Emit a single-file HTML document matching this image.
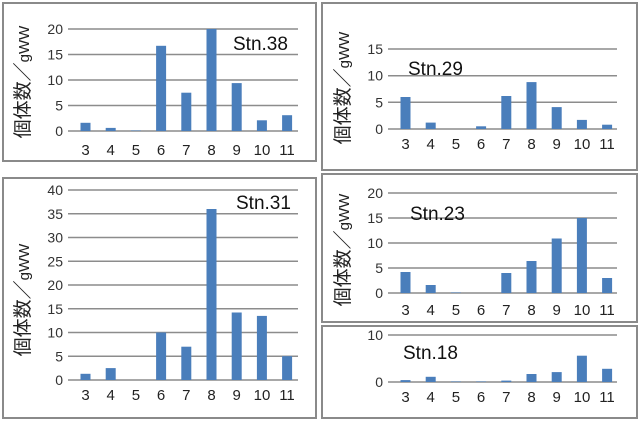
<!DOCTYPE html>
<html><head><meta charset="utf-8"><style>
body{margin:0;background:#fff}
svg{display:block;font-family:"Liberation Sans","Noto Sans CJK JP",sans-serif}
.g{stroke:#8c8c8c;stroke-width:1.5}
.b{fill:#4a7ebb}
.yl{font-size:14px;fill:#333;text-anchor:end}
.xl{font-size:15px;fill:#222;text-anchor:middle}
.t{font-size:19px;fill:#111}
.yt{font-size:19px;fill:#222;text-anchor:middle}
.yt tspan{font-size:15px}
</style></head><body>
<svg width="640" height="422" viewBox="0 0 640 422">
<rect x="0" y="0" width="640" height="422" fill="#fff"/>
<g fill="none" stroke="#8a8a8a" stroke-width="2">
<rect x="3" y="3" width="313" height="158"/>
<rect x="3" y="178" width="313" height="240"/>
<rect x="322" y="3" width="315" height="167"/>
<rect x="322" y="174" width="315" height="148"/>
<rect x="322" y="326" width="315" height="92"/>
</g>
<text class="yt" transform="translate(29,82) rotate(-90)">個体数／<tspan>gWW</tspan></text>
<text class="yt" transform="translate(29,300) rotate(-90)">個体数／<tspan>gWW</tspan></text>
<text class="yt" transform="translate(349,88) rotate(-90)">個体数／<tspan>gWW</tspan></text>
<text class="yt" transform="translate(349,250) rotate(-90)">個体数／<tspan>gWW</tspan></text>

<!-- Stn.38 -->
<g transform="translate(68,131)">
<line class="g" x1="0" x2="230" y1="-102" y2="-102"/><line class="g" x1="0" x2="230" y1="-76.5" y2="-76.5"/><line class="g" x1="0" x2="230" y1="-51" y2="-51"/><line class="g" x1="0" x2="230" y1="-25.5" y2="-25.5"/><line class="g" x1="0" x2="230" y1="0" y2="0"/>
<text class="yl" x="-5" y="-97">20</text><text class="yl" x="-5" y="-71.5">15</text><text class="yl" x="-5" y="-46">10</text><text class="yl" x="-5" y="-20.5">5</text><text class="yl" x="-5" y="5">0</text>
<rect class="b" x="12.5" y="-8.2" width="10" height="8.2"/><rect class="b" x="37.7" y="-3.1" width="10" height="3.1"/><rect class="b" x="62.9" y="-0.5" width="10" height="0.5"/><rect class="b" x="88.1" y="-85.2" width="10" height="85.2"/><rect class="b" x="113.3" y="-38.3" width="10" height="38.3"/><rect class="b" x="138.5" y="-102" width="10" height="102"/><rect class="b" x="163.7" y="-47.9" width="10" height="47.9"/><rect class="b" x="188.9" y="-10.7" width="10" height="10.7"/><rect class="b" x="214.1" y="-15.8" width="10" height="15.8"/>
<text class="xl" y="24"><tspan x="17.5">3</tspan><tspan x="42.7">4</tspan><tspan x="67.9">5</tspan><tspan x="93.1">6</tspan><tspan x="118.3">7</tspan><tspan x="143.5">8</tspan><tspan x="168.7">9</tspan><tspan x="194">10</tspan><tspan x="219">11</tspan></text>
<text class="t" x="165" y="-81">Stn.38</text>
</g>

<!-- Stn.31 -->
<g transform="translate(68,380)">
<line class="g" x1="0" x2="230" y1="-190" y2="-190"/><line class="g" x1="0" x2="230" y1="-166.25" y2="-166.25"/><line class="g" x1="0" x2="230" y1="-142.5" y2="-142.5"/><line class="g" x1="0" x2="230" y1="-118.75" y2="-118.75"/><line class="g" x1="0" x2="230" y1="-95" y2="-95"/><line class="g" x1="0" x2="230" y1="-71.25" y2="-71.25"/><line class="g" x1="0" x2="230" y1="-47.5" y2="-47.5"/><line class="g" x1="0" x2="230" y1="-23.75" y2="-23.75"/><line class="g" x1="0" x2="230" y1="0" y2="0"/>
<text class="yl" x="-5" y="-185">40</text><text class="yl" x="-5" y="-161.25">35</text><text class="yl" x="-5" y="-137.5">30</text><text class="yl" x="-5" y="-113.75">25</text><text class="yl" x="-5" y="-90">20</text><text class="yl" x="-5" y="-66.25">15</text><text class="yl" x="-5" y="-42.5">10</text><text class="yl" x="-5" y="-18.75">5</text><text class="yl" x="-5" y="5">0</text>
<rect class="b" x="12.5" y="-6.2" width="10" height="6.2"/><rect class="b" x="37.7" y="-11.9" width="10" height="11.9"/><rect class="b" x="88.1" y="-47.5" width="10" height="47.5"/><rect class="b" x="113.3" y="-33.3" width="10" height="33.3"/><rect class="b" x="138.5" y="-171" width="10" height="171"/><rect class="b" x="163.7" y="-67.5" width="10" height="67.5"/><rect class="b" x="188.9" y="-64.1" width="10" height="64.1"/><rect class="b" x="214.1" y="-23.8" width="10" height="23.8"/>
<text class="xl" y="20"><tspan x="17.5">3</tspan><tspan x="42.7">4</tspan><tspan x="67.9">5</tspan><tspan x="93.1">6</tspan><tspan x="118.3">7</tspan><tspan x="143.5">8</tspan><tspan x="168.7">9</tspan><tspan x="194">10</tspan><tspan x="219">11</tspan></text>
<text class="t" x="168" y="-171">Stn.31</text>
</g>

<!-- Stn.29 -->
<g transform="translate(388,129)">
<line class="g" x1="0" x2="229" y1="-80" y2="-80"/><line class="g" x1="0" x2="229" y1="-53.3" y2="-53.3"/><line class="g" x1="0" x2="229" y1="-26.7" y2="-26.7"/><line class="g" x1="0" x2="229" y1="0" y2="0"/>
<text class="yl" x="-5" y="-75">15</text><text class="yl" x="-5" y="-48.3">10</text><text class="yl" x="-5" y="-21.7">5</text><text class="yl" x="-5" y="5">0</text>
<rect class="b" x="12.5" y="-32" width="10" height="32"/><rect class="b" x="37.7" y="-6.4" width="10" height="6.4"/><rect class="b" x="88.1" y="-2.7" width="10" height="2.7"/><rect class="b" x="113.3" y="-33" width="10" height="33"/><rect class="b" x="138.5" y="-46.9" width="10" height="46.9"/><rect class="b" x="163.7" y="-21.9" width="10" height="21.9"/><rect class="b" x="188.9" y="-9.1" width="10" height="9.1"/><rect class="b" x="214.1" y="-4.3" width="10" height="4.3"/>
<text class="xl" y="20"><tspan x="17.5">3</tspan><tspan x="42.7">4</tspan><tspan x="67.9">5</tspan><tspan x="93.1">6</tspan><tspan x="118.3">7</tspan><tspan x="143.5">8</tspan><tspan x="168.7">9</tspan><tspan x="194">10</tspan><tspan x="219">11</tspan></text>
<text class="t" x="20" y="-54">Stn.29</text>
</g>

<!-- Stn.23 -->
<g transform="translate(388,293)">
<line class="g" x1="0" x2="229" y1="-100" y2="-100"/><line class="g" x1="0" x2="229" y1="-75" y2="-75"/><line class="g" x1="0" x2="229" y1="-50" y2="-50"/><line class="g" x1="0" x2="229" y1="-25" y2="-25"/><line class="g" x1="0" x2="229" y1="0" y2="0"/>
<text class="yl" x="-5" y="-95">20</text><text class="yl" x="-5" y="-70">15</text><text class="yl" x="-5" y="-45">10</text><text class="yl" x="-5" y="-20">5</text><text class="yl" x="-5" y="5">0</text>
<rect class="b" x="12.5" y="-21" width="10" height="21"/><rect class="b" x="37.7" y="-8" width="10" height="8"/><rect class="b" x="62.9" y="-0.5" width="10" height="0.5"/><rect class="b" x="113.3" y="-20" width="10" height="20"/><rect class="b" x="138.5" y="-32" width="10" height="32"/><rect class="b" x="163.7" y="-54.5" width="10" height="54.5"/><rect class="b" x="188.9" y="-75" width="10" height="75"/><rect class="b" x="214.1" y="-15" width="10" height="15"/>
<text class="xl" y="22"><tspan x="17.5">3</tspan><tspan x="42.7">4</tspan><tspan x="67.9">5</tspan><tspan x="93.1">6</tspan><tspan x="118.3">7</tspan><tspan x="143.5">8</tspan><tspan x="168.7">9</tspan><tspan x="194">10</tspan><tspan x="219">11</tspan></text>
<text class="t" x="22" y="-73">Stn.23</text>
</g>

<!-- Stn.18 -->
<g transform="translate(388,382)">
<line class="g" x1="0" x2="229" y1="-47" y2="-47"/><line class="g" x1="0" x2="229" y1="0" y2="0"/>
<text class="yl" x="-5" y="-42">10</text><text class="yl" x="-5" y="5">0</text>
<rect class="b" x="12.5" y="-1.9" width="10" height="1.9"/><rect class="b" x="37.7" y="-5.2" width="10" height="5.2"/><rect class="b" x="62.9" y="-0.5" width="10" height="0.5"/><rect class="b" x="88.1" y="-0.5" width="10" height="0.5"/><rect class="b" x="113.3" y="-1.4" width="10" height="1.4"/><rect class="b" x="138.5" y="-8" width="10" height="8"/><rect class="b" x="163.7" y="-9.9" width="10" height="9.9"/><rect class="b" x="188.9" y="-26.3" width="10" height="26.3"/><rect class="b" x="214.1" y="-13.2" width="10" height="13.2"/>
<text class="xl" y="20"><tspan x="17.5">3</tspan><tspan x="42.7">4</tspan><tspan x="67.9">5</tspan><tspan x="93.1">6</tspan><tspan x="118.3">7</tspan><tspan x="143.5">8</tspan><tspan x="168.7">9</tspan><tspan x="194">10</tspan><tspan x="219">11</tspan></text>
<text class="t" x="15" y="-23">Stn.18</text>
</g>
</svg>
</body></html>
